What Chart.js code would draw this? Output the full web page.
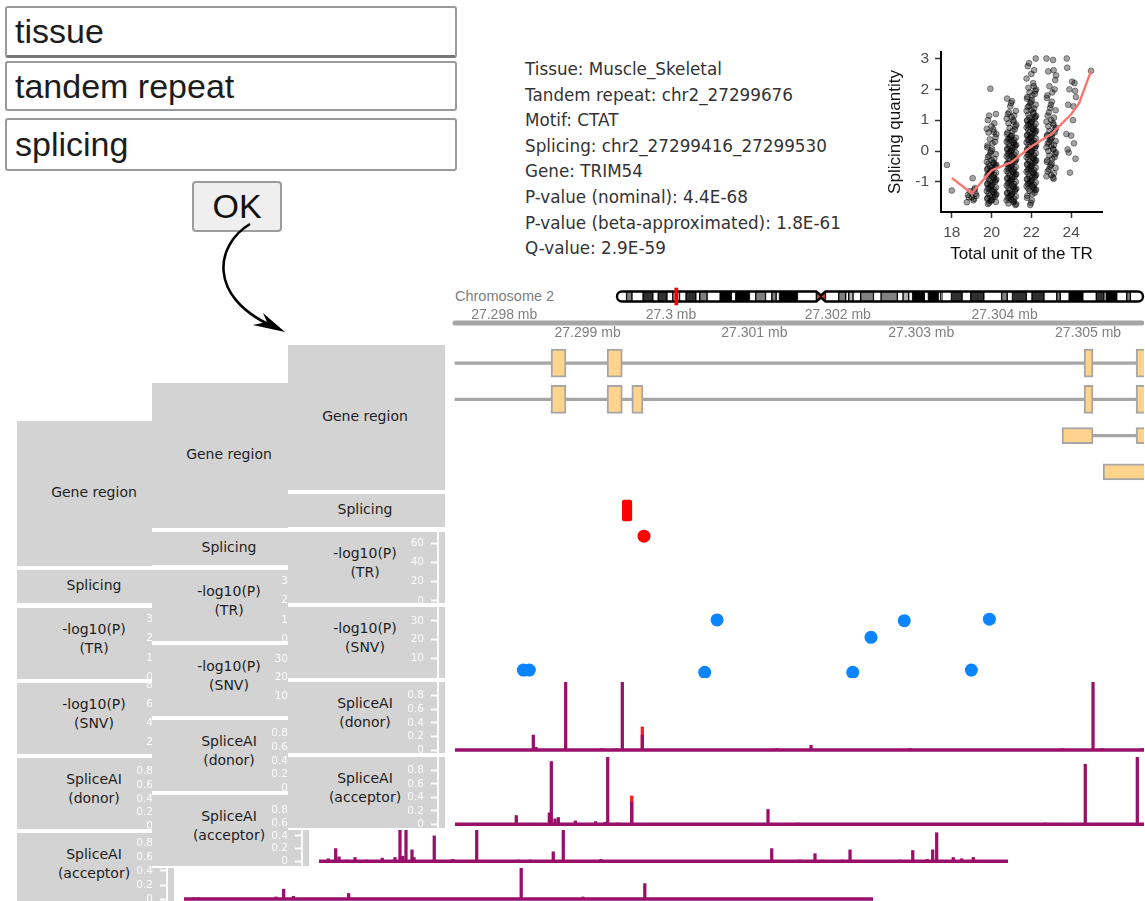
<!DOCTYPE html>
<html>
<head>
<meta charset="utf-8">
<script src="https://cdn.jsdelivr.net/npm/chart.js@4.4.1/dist/chart.umd.min.js"></script>
<style>
    body { margin: 0; background: #fff; }
    #root { position: relative; width: 1145px; height: 901px; overflow: hidden; background: #fff; font-family: "DejaVu Sans", sans-serif; }
    .inbox { position: absolute; left: 5px; width: 452px; box-sizing: border-box; border: 2px solid #9a9a9a; border-radius: 3px;
             font-family: "Liberation Sans", Arial, sans-serif; font-size: 34px; color: #1c1c1c; padding-left: 8px; display: flex; align-items: center; }
    #ok { position: absolute; left: 192px; top: 181px; width: 90px; height: 51px; box-sizing: border-box; background: #efefef;
          border: 2px solid #9c9c9c; border-radius: 4px; font-family: "Liberation Sans", Arial, sans-serif; font-size: 34px; color: #111;
          display: flex; align-items: center; justify-content: center; }
    #info { position: absolute; left: 525px; top: 57px; font-size: 16.8px; line-height: 25.6px; color: #333; white-space: nowrap; }
    #chrname { position: absolute; left: 455px; top: 288px; font-family: "Liberation Sans", Arial, sans-serif; font-size: 14.5px; color: #808080; }
    .panel { position: absolute; width: 857px; height: 485px; background: #fff; }
    .lab { position: absolute; left: 0; width: 157px; box-sizing: border-box; background: #d3d3d3; display: flex; align-items: center;
           justify-content: center; text-align: center; font-size: 14px; line-height: 19.5px; color: #1e1e1e; padding-right: 3px; }
    canvas { position: absolute; }
</style>
</head>
<body>
<div id="root">
    <div class="inbox" style="top:6px;height:52px;border-bottom:3px solid #777;">tissue</div>
    <div class="inbox" style="top:61px;height:50px;">tandem repeat</div>
    <div class="inbox" style="top:118px;height:53px;">splicing</div>
    <div id="ok">OK</div>
    <svg style="position:absolute;left:0;top:0" width="400" height="345">
        <path d="M250,224 C215,245 208,296 270,325" stroke="#000" stroke-width="2.6" fill="none"/>
        <polygon points="285,332 253,325 267,322 263,313" fill="#000"/>
    </svg>
    <div id="info"></div>
    <div id="chrname">Chromosome 2</div>
</div>
<script>
// ---- data ----
const infoLines = ["Tissue: Muscle_Skeletal", "Tandem repeat: chr2_27299676", "Motif: CTAT", "Splicing: chr2_27299416_27299530",
    "Gene: TRIM54", "P-value (nominal): 4.4E-68", "P-value (beta-approximated): 1.8E-61", "Q-value: 2.9E-59"];

// splicing quantity per total unit of the TR
const unit18 = [-0.45, -1.28];
const unit19 = [-0.88, -1.2, -1.3, -1.38, -1.45, -1.5, -1.55, -1.6, -1.66, -1.5, -1.25, -1.42];
const unit20 = [-1.72, -1.68, -1.65, -1.62, -1.6, -1.58, -1.55, -1.52, -1.5, -1.48, -1.45, -1.42, -1.4, -1.38, -1.35, -1.32, -1.3, -1.27,
    -1.25, -1.22, -1.2, -1.18, -1.15, -1.12, -1.1, -1.08, -1.05, -1.02, -1, -0.98, -0.95, -0.92, -0.9, -0.88, -0.85, -0.82, -0.8, -0.77,
    -0.75, -0.72, -0.7, -0.67, -0.65, -0.62, -0.6, -0.57, -0.55, -0.52, -0.5, -0.47, -0.45, -0.42, -0.4, -0.37, -0.35, -0.3, -0.25, -0.2,
    -0.15, -0.1, -0.05, 0, 0.05, 0.12, 0.18, 0.25, 0.3, 0.38, 0.45, 0.55, 0.6, 0.62, 0.7, 0.72, 0.8, 0.9, 1, 1.15, 1.2, 2.02];
const unit21 = [-1.75, -1.72, -1.7, -1.66, -1.63, -1.6, -1.58, -1.55, -1.52, -1.5, -1.47, -1.45, -1.42, -1.4, -1.37, -1.35, -1.33, -1.3,
    -1.28, -1.25, -1.22, -1.2, -1.17, -1.15, -1.12, -1.1, -1.07, -1.05, -1.02, -1, -0.97, -0.95, -0.92, -0.9, -0.87, -0.85, -0.82, -0.8,
    -0.77, -0.75, -0.72, -0.7, -0.67, -0.65, -0.62, -0.6, -0.57, -0.55, -0.52, -0.5, -0.47, -0.45, -0.42, -0.4, -0.37, -0.35, -0.32, -0.3,
    -0.27, -0.25, -0.22, -0.2, -0.17, -0.15, -0.12, -0.1, -0.07, -0.05, -0.02, 0, 0.03, 0.05, 0.08, 0.1, 0.13, 0.15, 0.18, 0.2, 0.23, 0.25,
    0.28, 0.3, 0.33, 0.35, 0.38, 0.4, 0.43, 0.45, 0.48, 0.5, 0.55, 0.6, 0.65, 0.7, 0.75, 0.8, 0.85, 0.9, 0.95, 1, 1.05, 1.1, 1.15, 1.2,
    1.25, 1.3, 1.45, 1.55, 1.62, 1.7];
const unit22 = [-1.75, -1.68, -1.6, -1.52, -1.45, -1.4, -1.35, -1.3, -1.27, -1.25, -1.22, -1.2, -1.17, -1.14, -1.12, -1.1, -1.07, -1.04,
    -1.02, -1, -0.97, -0.94, -0.92, -0.9, -0.87, -0.84, -0.82, -0.8, -0.77, -0.74, -0.72, -0.7, -0.67, -0.64, -0.62, -0.6, -0.57, -0.54,
    -0.52, -0.5, -0.47, -0.44, -0.42, -0.4, -0.37, -0.34, -0.32, -0.3, -0.27, -0.24, -0.22, -0.2, -0.17, -0.14, -0.12, -0.1, -0.07, -0.04,
    -0.02, 0, 0.03, 0.06, 0.08, 0.1, 0.13, 0.16, 0.18, 0.2, 0.23, 0.26, 0.28, 0.3, 0.33, 0.36, 0.38, 0.4, 0.43, 0.46, 0.48, 0.5, 0.53, 0.56,
    0.58, 0.6, 0.63, 0.66, 0.68, 0.7, 0.73, 0.76, 0.78, 0.8, 0.83, 0.86, 0.88, 0.9, 0.93, 0.96, 0.98, 1, 1.03, 1.06, 1.08, 1.1, 1.14, 1.18,
    1.22, 1.26, 1.3, 1.34, 1.38, 1.42, 1.46, 1.5, 1.55, 1.6, 1.65, 1.7, 1.75, 1.8, 1.85, 1.9, 1.95, 2, 2.05, 2.1, 2.2, 2.35, 2.5, 2.62,
    2.75, 2.85, 3];
const unit23 = [-0.9, -0.86, -0.82, -0.78, -0.72, -0.66, -0.6, -0.55, -0.5, -0.45, -0.4, -0.35, -0.3, -0.25, -0.2, -0.15, -0.1, -0.05, 0,
    0.04, 0.08, 0.12, 0.16, 0.2, 0.24, 0.28, 0.32, 0.36, 0.4, 0.44, 0.48, 0.52, 0.56, 0.6, 0.65, 0.7, 0.75, 0.8, 0.85, 0.9, 0.95, 1, 1.08,
    1.15, 1.25, 1.32, 1.4, 1.5, 1.6, 1.72, 1.8, 1.9, 2, 2.1, 2.3, 2.45, 2.58, 2.62, 2.95, 3];
const unit24 = [3, 2.7, 2.25, 2.2, 2, 1.95, 1.75, 1.5, 1.45, 1, 0.55, 0.5, 0.25, 0.05, -0.05, -0.25, -0.7];
const unit25 = [2.6];
const jitterOffsets = [0.05, -0.18, 0.2, -0.06, 0.12, -0.22, 0, 0.17, -0.12, 0.24, -0.02, 0.09, -0.2, 0.14, -0.09, 0.22, -0.15, 0.03, -0.24];
const loessX = [18, 19, 20, 21, 22, 23, 24, 24.4, 25];
const loessY = [-0.87, -1.37, -0.63, -0.36, 0.15, 0.54, 1.19, 1.55, 2.6];
const unitTicks = [18, 20, 22, 24];
const quantTicks = [-1, 0, 1, 2, 3];

// chromosome 2 cytobands (Mb)
const bandEdges = [0, 4.4, 6.9, 12, 16.5, 19, 23, 25.7, 28.8, 31.8, 36.3, 38.1, 41.5, 47.5, 52.6, 54.7, 61, 63.9, 68.4, 71.3, 73.3, 74.8,
    83.1, 91.8, 93.9, 96, 102.1, 105.3, 106.7, 108.7, 112.2, 118.1, 121.6, 129.1, 131.7, 134.3, 136.1, 141.5, 143.4, 147.9, 149, 149.6,
    154, 158.9, 162.9, 168.9, 177.1, 179.7, 182.1, 188.5, 191.1, 196.6, 202.5, 204.1, 208.2, 214.5, 220.7, 224.3, 225.2, 230.1, 234.7,
    236.4, 242.2];
const bandStain = ["gneg", "gpos50", "gneg", "gpos75", "gneg", "gpos75", "gneg", "gpos25", "gneg", "gpos75", "gneg", "gpos50", "gneg",
    "gpos100", "gneg", "gpos100", "gneg", "gpos50", "gneg", "gpos50", "gneg", "gpos100", "gneg", "acen", "acen", "gneg", "gpos50", "gneg",
    "gpos25", "gneg", "gpos50", "gneg", "gpos50", "gneg", "gpos25", "gneg", "gpos100", "gneg", "gpos100", "gneg", "gpos25", "gneg",
    "gpos75", "gneg", "gpos75", "gneg", "gpos50", "gneg", "gpos75", "gneg", "gpos75", "gneg", "gpos50", "gneg", "gpos100", "gneg",
    "gpos75", "gneg", "gpos100", "gneg", "gpos50", "gneg"];
const centromereMb = 93.9;
const markerMb = 27.3;

const genomeTicks = [27298000, 27299000, 27300000, 27301000, 27302000, 27303000, 27304000, 27305000];

// transcripts (bp)
const txNames = ["t1", "t2", "t3", "t4"];
const txIntrons = [["t1", 27297410, 27305700], ["t2", 27297410, 27305700], ["t3", 27305060, 27305700]];
const txCodingExons = [["t1", 27298561, 27298741], ["t1", 27299233, 27299416], ["t1", 27304952, 27305060], ["t1", 27305576, 27305900],
    ["t2", 27298561, 27298741], ["t2", 27299233, 27299416], ["t2", 27299530, 27299664], ["t2", 27304952, 27305060], ["t2", 27305576, 27305900]];
const txOtherExons = [["t3", 27304688, 27305060], ["t3", 27305576, 27305900], ["t4", 27305180, 27305900]];

const junction = [27299416, 27299530];
const trPos = [27299676];
const trLogP = [67.36];
const snvPos = [27298229, 27298301, 27300404, 27300552, 27302179, 27302398, 27302797, 27303601, 27303817];
const snvLogP = [3.7, 3.7, 2.5, 30.5, 2.5, 21.2, 30.1, 3.7, 30.9];

const donorPos = [27298349, 27298381, 27298737, 27299176, 27299349, 27299416, 27299656, 27301267, 27301679, 27302866, 27304688, 27305060, 27305164, 27305659];
const donorVal = [0.22, 0.04, 1, 0.02, 0.02, 1, 0.22, 0.02, 0.07, 0.02, 0.02, 1, 0.02, 0.02];
const donorAltPos = [27299656];
const donorAltVal = [0.34];
const acceptorPos = [27298145, 27298541, 27298565, 27298609, 27298649, 27298853, 27299097, 27299209, 27299241, 27299361, 27299529, 27301163, 27301519, 27304484, 27304967, 27305591];
const acceptorVal = [0.13, 0.17, 0.93, 0.08, 0.1, 0.05, 0.04, 0.03, 1, 0.02, 0.33, 0.22, 0.02, 0.02, 0.89, 1];
const acceptorAltPos = [27299529];
const acceptorAltVal = [0.42];

// panels behind the front one (only their acceptor tracks show)
const midAcceptorPos = [27297522, 27297610, 27297650, 27297742, 27297842, 27297982, 27298169, 27298321, 27298381, 27298414, 27298453, 27298525,
    27298549, 27298792, 27299013, 27299301, 27299800, 27299940, 27300219, 27300339, 27300791, 27302838, 27303177, 27303357, 27303453,
    27303684, 27303777, 27304376, 27304529, 27304703, 27304768, 27304816, 27305015, 27305116, 27305255];
const midAcceptorVal = [0.04, 0.2, 0.07, 0.02, 0.06, 0.02, 0.05, 0.06, 0.6, 0.08, 0.6, 0.18, 0.06, 0.4, 0.03, 0.6, 0.02, 0.02, 0.15, 0.6,
    0.03, 0.2, 0.02, 0.12, 0.02, 0.02, 0.18, 0.02, 0.17, 0.03, 0.18, 0.45, 0.06, 0.04, 0.06];
const backAcceptorPos = [27297524, 27297583, 27298512, 27298605, 27298722, 27299384, 27301453, 27302192, 27302935];
const backAcceptorVal = [0.02, 0.02, 0.03, 0.14, 0.04, 0.08, 0.55, 0.03, 0.22];

const trTicksFront = [0, 20, 40, 60];
const trTicksBack = [0, 1, 2, 3];
const snvTicksFront = [10, 20, 30];
const snvTicksBack = [2, 4, 6, 8];
const spliceAiTicks = [0, 0.2, 0.4, 0.6, 0.8];

// ---- layout ----
const AXIS_W = 150;
const BP_PER_PX = 11.99;
const TRACK_START = 27297410;
const X_MIN = TRACK_START - 17 * BP_PER_PX;
const X_MAX = X_MIN + 706 * BP_PER_PX;
const PURPLE = '#98106a';
const root = document.getElementById('root');

document.getElementById('info').innerHTML = infoLines.map(l => `<div>${l}</div>`).join('');

function addCanvas(parent, left, top, w, h) {
    const c = document.createElement('canvas');
    c.width = w; c.height = h;
    c.style.left = left + 'px'; c.style.top = top + 'px';
    c.style.width = w + 'px'; c.style.height = h + 'px';
    parent.appendChild(c);
    return c.getContext('2d');
}

function baseOptions(extra) {
    return Object.assign({
        responsive: false, animation: false, events: [], devicePixelRatio: 1,
        plugins: { legend: { display: false }, tooltip: { enabled: false } },
        layout: { padding: 0, autoPadding: false }
    }, extra);
}

// keep chart.js from shrinking the plot area to make room for edge tick labels
function noEdgePadding(s) {
    s.paddingTop = 0; s.paddingBottom = 0; s.paddingLeft = 0; s.paddingRight = 0;
}

function genomicX() {
    return { type: 'linear', min: X_MIN, max: X_MAX, display: false, offset: false };
}

function valueAxis(range, ticks) {
    return {
        type: 'linear', position: 'left', min: range[0], max: range[1],
        afterFit: s => { s.width = AXIS_W; noEdgePadding(s); },
        afterBuildTicks: s => { s.ticks = ticks.map(v => ({ value: v })); },
        ticks: { color: '#fbfbfb', padding: 7, autoSkip: false, font: { family: 'DejaVu Sans', size: 10.5 }, callback: v => String(v) },
        grid: { drawOnChartArea: false, drawTicks: true, tickLength: 7, tickColor: '#fbfbfb', tickWidth: 2 },
        border: { display: true, color: '#fbfbfb', width: 2 }
    };
}

function pointChart(ctx, t, color, range) {
    new Chart(ctx, {
        type: 'scatter',
        data: { datasets: [{ data: t.pos.map((p, i) => ({ x: p, y: t.val[i] })), backgroundColor: color, borderWidth: 0, pointRadius: 6.5, clip: false }] },
        options: baseOptions({ scales: { x: genomicX(), y: valueAxis(range || t.range, t.ticks) } })
    });
}

function spikeChart(ctx, t) {
    new Chart(ctx, {
        type: 'bar',
        data: { datasets: [
            { type: 'line', data: [{ x: TRACK_START, y: 0 }, { x: X_MAX, y: 0 }], borderColor: PURPLE, borderWidth: 3.5, pointRadius: 0, order: 0 },
            { data: t.pos.map((p, i) => ({ x: p, y: t.val[i] })), backgroundColor: PURPLE, barThickness: 2.6, grouped: false, order: 1 },
            { data: t.altPos.map((p, i) => ({ x: p, y: t.altVal[i] })), backgroundColor: '#ff1a1a', barThickness: 2.6, grouped: false, order: 2 }
        ] },
        options: baseOptions({ scales: { x: genomicX(), y: valueAxis(t.range, t.ticks) } })
    });
}

function geneChart(ctx) {
    const toBars = list => list.map(e => ({ y: e[0], x: [e[1], e[2]] }));
    new Chart(ctx, {
        type: 'bar',
        data: { labels: txNames, datasets: [
            { data: toBars(txIntrons), backgroundColor: '#a6a6a6', barThickness: 2.5, grouped: false, borderSkipped: false, order: 3 },
            { data: toBars(txCodingExons), backgroundColor: '#fed38c', borderColor: '#a6a6a6', borderWidth: 2, barThickness: 28, grouped: false, borderSkipped: false, order: 1 },
            { data: toBars(txOtherExons), backgroundColor: '#fed38c', borderColor: '#a6a6a6', borderWidth: 2, barThickness: 16, grouped: false, borderSkipped: false, order: 2 }
        ] },
        options: baseOptions({ indexAxis: 'y', layout: { padding: { left: AXIS_W }, autoPadding: false }, scales: { x: genomicX(), y: { display: false } } })
    });
}

function junctionChart(ctx) {
    new Chart(ctx, {
        type: 'bar',
        data: { labels: ['j'], datasets: [{ data: [{ y: 'j', x: junction }], backgroundColor: '#ff0000', barThickness: 21, borderRadius: 2, borderSkipped: false }] },
        options: baseOptions({ indexAxis: 'y', layout: { padding: { left: AXIS_W }, autoPadding: false }, scales: { x: genomicX(), y: { display: false } } })
    });
}

const rowsLayout = [
    { key: 'gene', label: 'Gene region', top: 0, h: 145 },
    { key: 'splice', label: 'Splicing', top: 149, h: 33 },
    { key: 'tr', label: '-log10(P)<br>(TR)', top: 187, h: 71 },
    { key: 'snv', label: '-log10(P)<br>(SNV)', top: 262, h: 71 },
    { key: 'donor', label: 'SpliceAI<br>(donor)', top: 337, h: 71 },
    { key: 'acceptor', label: 'SpliceAI<br>(acceptor)', top: 412, h: 71 }
];

const none = { pos: [], val: [], altPos: [], altVal: [] };
const panels = [
    { left: 17, top: 421, z: 1, tracks: {
        tr: { ...none, range: [-0.1, 3.6], ticks: trTicksBack },
        snv: { ...none, range: [0.8, 8.2], ticks: snvTicksBack },
        donor: { ...none, range: [-0.044, 1], ticks: spliceAiTicks },
        acceptor: { ...none, pos: backAcceptorPos, val: backAcceptorVal, range: [-0.07, 0.94], ticks: spliceAiTicks } } },
    { left: 152, top: 383, z: 2, tracks: {
        tr: { ...none, range: [-0.1, 3.6], ticks: trTicksBack },
        snv: { ...none, range: [-0.53, 37.4], ticks: snvTicksFront },
        donor: { ...none, range: [-0.044, 1], ticks: spliceAiTicks },
        acceptor: { ...none, pos: midAcceptorPos, val: midAcceptorVal, range: [-0.074, 1.044], ticks: spliceAiTicks } } },
    { left: 288, top: 345, z: 3, front: true, tracks: {
        tr: { pos: trPos, val: trLogP, range: [-2.08, 71.7], ticks: trTicksFront },
        snv: { pos: snvPos, val: snvLogP, range: [-0.53, 37.4], ticks: snvTicksFront },
        donor: { pos: donorPos, val: donorVal, altPos: donorAltPos, altVal: donorAltVal, range: [-0.044, 1], ticks: spliceAiTicks },
        acceptor: { pos: acceptorPos, val: acceptorVal, altPos: acceptorAltPos, altVal: acceptorAltVal, range: [-0.055, 0.997], ticks: spliceAiTicks } } }
];

const TR_EXTRA = 4; // TR canvas reaches a little above its box so the top point is not cut
panels.forEach(p => {
    const panel = document.createElement('div');
    panel.className = 'panel';
    panel.style.left = p.left + 'px'; panel.style.top = p.top + 'px'; panel.style.zIndex = p.z;
    root.appendChild(panel);
    rowsLayout.forEach(row => {
        const lab = document.createElement('div');
        lab.className = 'lab';
        lab.style.top = row.top + 'px'; lab.style.height = row.h + 'px';
        lab.style.paddingBottom = row.label.includes('<br>') ? '9px' : '2px';
        lab.innerHTML = row.label;
        panel.appendChild(lab);
        if (row.key === 'gene') { if (p.front) geneChart(addCanvas(panel, 0, row.top, 856, row.h)); return; }
        if (row.key === 'splice') { if (p.front) junctionChart(addCanvas(panel, 0, row.top, 856, row.h)); return; }
        if (row.key === 'tr') {
            const r = p.tracks.tr.range;
            const ctx = addCanvas(panel, 0, row.top - TR_EXTRA, 856, row.h + TR_EXTRA);
            pointChart(ctx, p.tracks.tr, '#ff0000', [r[0], r[1] + TR_EXTRA * (r[1] - r[0]) / row.h]);
            return;
        }
        const ctx = addCanvas(panel, 0, row.top, 856, row.h);
        if (row.key === 'snv') pointChart(ctx, p.tracks.snv, '#0a84ff');
        else spikeChart(ctx, p.tracks[row.key]);
    });
});

// genome axis above the front panel
const genomeAxisPlugin = {
    id: 'genomeAxis',
    afterDraw(chart) {
        const { ctx, scales: { x }, chartArea } = chart;
        ctx.save();
        ctx.strokeStyle = '#a6a6a6'; ctx.lineWidth = 5; ctx.lineCap = 'round';
        ctx.beginPath(); ctx.moveTo(x.getPixelForValue(TRACK_START), 23); ctx.lineTo(chartArea.right - 2, 23); ctx.stroke();
        ctx.fillStyle = '#7f7f7f'; ctx.font = '14px "Liberation Sans", Arial, sans-serif';
        ctx.textAlign = 'center'; ctx.textBaseline = 'middle';
        genomeTicks.forEach((v, i) => ctx.fillText(`${v / 1e6} mb`, x.getPixelForValue(v), i % 2 === 0 ? 15 : 33));
        ctx.restore();
    }
};
new Chart(addCanvas(root, 288, 300, 856, 42), {
    type: 'scatter', data: { datasets: [{ data: [] }] },
    options: baseOptions({ layout: { padding: { left: AXIS_W }, autoPadding: false }, scales: { x: genomicX(), y: { display: false } } }),
    plugins: [genomeAxisPlugin]
});

// chromosome ideogram
const stainColor = { gneg: '#ffffff', gpos25: '#b4b4b4', gpos50: '#808080', gpos75: '#303030', gpos100: '#000000', acen: '#c0392b' };
function ideogramPath(chart) {
    const x = chart.scales.x, cy = chart.scales.y.getPixelForValue(0);
    const x0 = x.getPixelForValue(0), x1 = x.getPixelForValue(bandEdges[bandEdges.length - 1]);
    const cs = x.getPixelForValue(91.8), cc = x.getPixelForValue(centromereMb), ce = x.getPixelForValue(96);
    const r = 5, top = cy - r, bot = cy + r;
    const path = new Path2D();
    path.moveTo(x0 + r, top); path.lineTo(cs, top); path.lineTo(cc, cy - 1); path.lineTo(ce, top); path.lineTo(x1 - r, top);
    path.arc(x1 - r, cy, r, -Math.PI / 2, Math.PI / 2);
    path.lineTo(ce, bot); path.lineTo(cc, cy + 1); path.lineTo(cs, bot); path.lineTo(x0 + r, bot);
    path.arc(x0 + r, cy, r, Math.PI / 2, Math.PI * 1.5);
    path.closePath();
    return path;
}
const ideogramPlugin = {
    id: 'ideogram',
    beforeDatasetDraw(chart, args) {
        if (args.index !== 0) return;
        chart.ctx.save(); chart.ctx.clip(ideogramPath(chart));
    },
    afterDatasetDraw(chart, args) {
        if (args.index !== 0) return;
        const ctx = chart.ctx;
        ctx.restore();
        ctx.save(); ctx.strokeStyle = '#000'; ctx.lineWidth = 2.4; ctx.stroke(ideogramPath(chart)); ctx.restore();
    }
};
new Chart(addCanvas(root, 600, 283, 545, 27), {
    type: 'bar',
    data: { labels: ['chr2'], datasets: [
        { data: bandStain.map((s, i) => ({ y: 'chr2', x: [bandEdges[i], bandEdges[i + 1]] })), backgroundColor: bandStain.map(s => stainColor[s]),
          borderColor: '#000', borderWidth: 1, barThickness: 11, grouped: false, borderSkipped: false, order: 2 },
        { data: [{ y: 'chr2', x: [markerMb - 0.7, markerMb + 0.7] }], backgroundColor: '#ff0000', barThickness: 17, grouped: false, borderSkipped: false, order: 1 }
    ] },
    options: baseOptions({ indexAxis: 'y', layout: { padding: { left: 17, right: 2 }, autoPadding: false },
        scales: { x: { type: 'linear', min: 0, max: bandEdges[bandEdges.length - 1], display: false }, y: { display: false } } }),
    plugins: [ideogramPlugin]
});

// TR length vs splicing scatter
const unitGroups = [[18, unit18], [19, unit19], [20, unit20], [21, unit21], [22, unit22], [23, unit23], [24, unit24], [25, unit25]];
const scatterPoints = [];
unitGroups.forEach(([u, ys]) => ys.forEach((y, i) => scatterPoints.push({ x: u + jitterOffsets[(i * 7 + u) % jitterOffsets.length], y })));
const tickFont = { family: 'Liberation Sans', size: 15.5 };
const titleFont = { family: 'Liberation Sans', size: 17 };
new Chart(addCanvas(root, 870, 40, 275, 235), {
    type: 'scatter',
    data: { datasets: [
        { type: 'line', data: loessX.map((x, i) => ({ x, y: loessY[i] })), borderColor: '#f8766d', borderWidth: 2.4, pointRadius: 0, order: 0 },
        { data: scatterPoints, pointRadius: 2.9, backgroundColor: 'rgba(0,0,0,0.36)', borderColor: 'rgba(0,0,0,0.5)', borderWidth: 0.8, order: 1 }
    ] },
    options: baseOptions({
        layout: { padding: { top: 12, right: 43 }, autoPadding: false },
        scales: {
            x: { type: 'linear', min: 17.46, max: 25.55,
                 afterFit: s => { s.height = 63; noEdgePadding(s); },
                 afterBuildTicks: s => { s.ticks = unitTicks.map(v => ({ value: v })); },
                 ticks: { color: '#4d4d4d', font: tickFont, padding: 5, autoSkip: false, maxRotation: 0 },
                 grid: { drawOnChartArea: false, tickLength: 6, tickColor: '#333', tickWidth: 1.5 },
                 border: { color: '#000', width: 2 },
                 title: { display: true, text: 'Total unit of the TR', color: '#111', font: titleFont, padding: { top: 0, bottom: 10 } } },
            y: { type: 'linear', min: -1.977, max: 3.21,
                 afterFit: s => { s.width = 71; noEdgePadding(s); },
                 afterBuildTicks: s => { s.ticks = quantTicks.map(v => ({ value: v })); },
                 ticks: { color: '#4d4d4d', font: tickFont, padding: 6, autoSkip: false },
                 grid: { drawOnChartArea: false, tickLength: 6, tickColor: '#333', tickWidth: 1.5 },
                 border: { color: '#000', width: 2 },
                 title: { display: true, text: 'Splicing quantity', color: '#111', font: titleFont, padding: { top: 15, bottom: 0 } } }
        }
    })
});
</script>
</body>
</html>
